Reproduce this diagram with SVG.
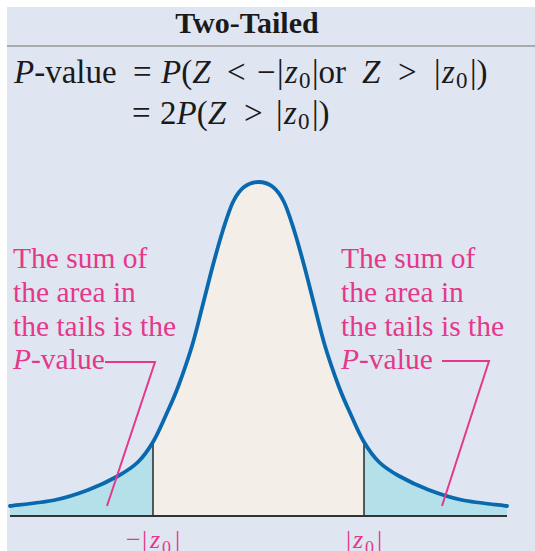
<svg xmlns="http://www.w3.org/2000/svg" width="535" height="551" viewBox="0 0 535 551">
<style>
.serif{font-family:"Liberation Serif","Times New Roman",serif;}
.hdr{font-size:30px;font-weight:bold;fill:#1a1a1a;}
.fm{font-size:33px;fill:#1a1a1a;}
.it{font-style:italic;}
.sub{font-size:23px;}
.sub2{font-size:18px;}
.lbl{font-size:29.5px;fill:#e5388a;}
.ax{font-size:26px;fill:#e5388a;}
.lead{fill:none;stroke:#e5388a;stroke-width:2;}
.cut{stroke:#333;stroke-width:1.6;}
</style>
<rect x="7" y="7" width="528" height="544" fill="#dfe6f2"/>
<line x1="7" y1="46" x2="535" y2="46" stroke="#a9aaad" stroke-width="2.2"/>
<g id="header">
<text class="serif hdr" x="247" y="33" text-anchor="middle">Two-Tailed</text>
</g>
<g id="formula">
<text class="serif fm" y="83"><tspan x="14" class="it">P</tspan>-value<tspan x="133">=</tspan><tspan x="161" class="it">P</tspan>(<tspan class="it">Z</tspan><tspan x="227">&lt;</tspan><tspan x="257">−</tspan><tspan x="277">|</tspan><tspan x="285" class="it">z</tspan><tspan x="299" class="sub" dy="5">0</tspan><tspan x="312" dy="-5">|or</tspan><tspan x="362" class="it">Z</tspan><tspan x="398">&gt;</tspan><tspan x="434">|</tspan><tspan x="442" class="it">z</tspan><tspan x="456" class="sub" dy="5">0</tspan><tspan x="470" dy="-5">|)</tspan></text>
<text class="serif fm" y="124"><tspan x="132">=</tspan><tspan x="160">2</tspan><tspan class="it">P</tspan>(<tspan class="it">Z</tspan><tspan x="244">&gt;</tspan><tspan x="276">|</tspan><tspan x="284" class="it">z</tspan><tspan x="298" class="sub" dy="5">0</tspan><tspan x="312" dy="-5">|)</tspan></text>
</g>
<g id="curve">
<path fill="#b3e0e9" d="M10,516 L10,506 C17.5,505 42,502.67 55,500 C68,497.33 77.5,494 88,490 C98.5,486 109.67,480.67 118,476 C126.33,471.33 132.17,467.67 138,462 C143.83,456.33 148.33,449.83 153,442 L153,516 Z"/>
<path fill="#f3efe8" d="M153,516 L153,442 C157.67,434.17 161.83,424.17 166,415 C170.17,405.83 173.67,398.5 178,387 C182.33,375.5 187.83,359.83 192,346 C196.17,332.17 199.5,317.5 203,304 C206.5,290.5 209.67,277.33 213,265 C216.33,252.67 219.67,240.5 223,230 C226.33,219.5 229.5,209.17 233,202 C236.5,194.83 239.75,190.33 244,187 C248.25,183.67 253.67,182 258.5,182 C263.33,182 268.75,183.67 273,187 C277.25,190.33 280.5,194.83 284,202 C287.5,209.17 290.67,219.5 294,230 C297.33,240.5 300.67,252.67 304,265 C307.33,277.33 310.5,290.5 314,304 C317.5,317.5 320.83,332.17 325,346 C329.17,359.83 334.67,375.5 339,387 C343.33,398.5 346.83,405.83 351,415 C355.17,424.17 359.33,434.17 364,442 L364,516 Z"/>
<path fill="#b3e0e9" d="M364,516 L364,442 C368.67,449.83 373.17,456.33 379,462 C384.83,467.67 390.67,471.33 399,476 C407.33,480.67 418.5,486 429,490 C439.5,494 449,497.33 462,500 C475,502.67 499.5,505 507,506 L507,516 Z"/>
<line class="cut" x1="153" y1="442" x2="153" y2="516"/>
<line class="cut" x1="364" y1="442" x2="364" y2="516"/>
<line x1="10" y1="516" x2="507" y2="516" stroke="#333" stroke-width="2"/>
<path fill="none" stroke="#0a68af" stroke-width="3.8" stroke-linecap="round" d="M10,506 C17.5,505 42,502.67 55,500 C68,497.33 77.5,494 88,490 C98.5,486 109.67,480.67 118,476 C126.33,471.33 132.17,467.67 138,462 C143.83,456.33 148.33,449.83 153,442 C157.67,434.17 161.83,424.17 166,415 C170.17,405.83 173.67,398.5 178,387 C182.33,375.5 187.83,359.83 192,346 C196.17,332.17 199.5,317.5 203,304 C206.5,290.5 209.67,277.33 213,265 C216.33,252.67 219.67,240.5 223,230 C226.33,219.5 229.5,209.17 233,202 C236.5,194.83 239.75,190.33 244,187 C248.25,183.67 253.67,182 258.5,182 C263.33,182 268.75,183.67 273,187 C277.25,190.33 280.5,194.83 284,202 C287.5,209.17 290.67,219.5 294,230 C297.33,240.5 300.67,252.67 304,265 C307.33,277.33 310.5,290.5 314,304 C317.5,317.5 320.83,332.17 325,346 C329.17,359.83 334.67,375.5 339,387 C343.33,398.5 346.83,405.83 351,415 C355.17,424.17 359.33,434.17 364,442 C368.67,449.83 373.17,456.33 379,462 C384.83,467.67 390.67,471.33 399,476 C407.33,480.67 418.5,486 429,490 C439.5,494 449,497.33 462,500 C475,502.67 499.5,505 507,506"/>
</g>
<g id="label-left">
<text class="serif lbl" x="13" y="268">The sum of</text>
<text class="serif lbl" x="13" y="302">the area in</text>
<text class="serif lbl" x="13" y="336">the tails is the</text>
<text class="serif lbl" x="13" y="369"><tspan class="it">P</tspan>-value</text>
</g>
<g id="label-right">
<text class="serif lbl" x="341" y="268">The sum of</text>
<text class="serif lbl" x="341" y="302">the area in</text>
<text class="serif lbl" x="341" y="336">the tails is the</text>
<text class="serif lbl" x="341" y="369"><tspan class="it">P</tspan>-value</text>
</g>
<g id="axis-labels">
<text class="serif ax" y="548"><tspan x="126">−</tspan><tspan x="142">|</tspan><tspan x="150" class="it">z</tspan><tspan x="162" class="sub2" dy="6">0</tspan><tspan x="175" dy="-6">|</tspan></text>
<text class="serif ax" y="548"><tspan x="346">|</tspan><tspan x="353" class="it">z</tspan><tspan x="365" class="sub2" dy="6">0</tspan><tspan x="377" dy="-6">|</tspan></text>
</g>
<g id="connectors">
<polyline class="lead" points="105,362 155,362 107,506"/>
<polyline class="lead" points="442,361 489,361 442,506"/>
</g>
</svg>
